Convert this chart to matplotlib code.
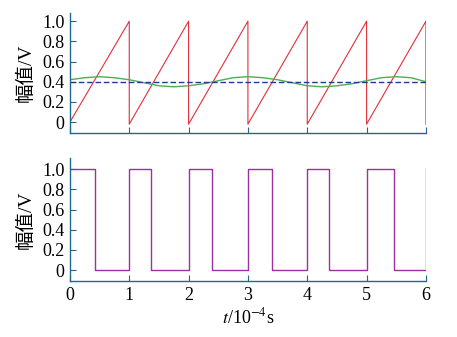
import matplotlib
matplotlib.use("Agg")
import matplotlib.pyplot as plt

plt.rcParams['font.family'] = ['Liberation Serif', 'Noto Sans CJK SC']
plt.rcParams['mathtext.fontset'] = 'stix'

# 锯齿波 (载波)
saw_t = [0, 1, 1, 2, 2, 3, 3, 4, 4, 5, 5, 6, 6]
saw_v = [0, 1.0, -0.02, 1.0, -0.02, 1.0, -0.02, 1.0, -0.02, 1.0, -0.02, 1.0, -0.02]

# 正弦调制波
sin_t = [0, 0.25, 0.5, 0.75, 1.0, 1.25, 1.5, 1.75, 2.0, 2.25, 2.5, 2.75, 3.0,
         3.25, 3.5, 3.75, 4.0, 4.25, 4.5, 4.75, 5.0, 5.25, 5.5, 5.75, 6.0]
sin_v = [0.42, 0.44, 0.45, 0.44, 0.42, 0.39, 0.36, 0.35, 0.36, 0.38, 0.41, 0.44, 0.45,
         0.44, 0.42, 0.39, 0.36, 0.35, 0.36, 0.38, 0.41, 0.44, 0.45, 0.44, 0.40]

# 参考电平
ref_t = [0, 6]
ref_v = [0.4, 0.4]

# PWM 输出
pwm_t = [0, 0.43, 0.43, 1.0, 1.0, 1.36, 1.36, 2.0, 2.0, 2.4, 2.4, 3.0, 3.0, 3.41, 3.41,
         4.0, 4.0, 4.36, 4.36, 5.0, 5.0, 5.46, 5.46, 6.0, 6.0]
pwm_v = [1, 1, 0, 0, 1, 1, 0, 0, 1, 1, 0, 0, 1, 1, 0, 0, 1, 1, 0, 0, 1, 1, 0, 0, 1]

xticks = [0, 1, 2, 3, 4, 5, 6]
yticks = [0, 0.2, 0.4, 0.6, 0.8, 1.0]
yticklabels = ['0', '0.2', '0.4', '0.6', '0.8', '1.0']

spine_c = '#1f6a8a'

fig = plt.figure(figsize=(4.57, 3.37), dpi=100)
ax1 = fig.add_axes([0.153, 0.605, 0.779, 0.356])
ax2 = fig.add_axes([0.153, 0.166, 0.779, 0.365])

ax1.plot(saw_t, saw_v, color='#e0303a', lw=0.8)
ax1.plot(sin_t, sin_v, color='#4caf50', lw=1.0)
ax1.plot(ref_t, ref_v, color='#1f3a93', lw=1.0, ls=(0, (4, 2)))
ax2.plot(pwm_t, pwm_v, color='#9b30a0', lw=1.0)

for ax in (ax1, ax2):
    ax.set_xlim(0, 6)
    ax.set_xticks(xticks)
    ax.set_yticks(yticks)
    ax.set_yticklabels(yticklabels)
    for s in ('top', 'right'):
        ax.spines[s].set_visible(False)
    for s in ('left', 'bottom'):
        ax.spines[s].set_color(spine_c)
        ax.spines[s].set_linewidth(1.0)
    ax.tick_params(direction='in', color=spine_c, length=4, labelsize=13, pad=4)
    ax.set_ylabel('幅值/V', fontsize=14, labelpad=5)

ax1.set_ylim(-0.109, 1.08)
ax2.set_ylim(-0.109, 1.11)
ax1.set_xticklabels([])
ax2.set_xlabel(r'$t$/10$^{-4}$s', fontsize=13, labelpad=3)

fig.savefig('out.png', dpi=100)
